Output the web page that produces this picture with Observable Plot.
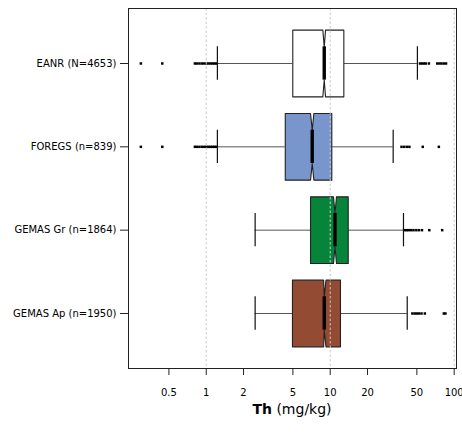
<!DOCTYPE html>
<html>
<head>
<meta charset="utf-8">
<script src="https://cdn.jsdelivr.net/npm/d3@7"></script>
<script src="https://cdn.jsdelivr.net/npm/@observablehq/plot@0.6"></script>
<style>
  html, body { margin: 0; padding: 0; background: #fff; }
  #chart { width: 462px; height: 433px; }
</style>
</head>
<body>
<div id="chart"></div>
<script>
// Thorium (mg/kg) in four European geochemical surveys: notched box plots
const groups = ["EANR (N=4653)", "FOREGS (n=839)", "GEMAS Gr (n=1864)", "GEMAS Ap (n=1950)"];
const fills = ["#ffffff", "#7896cb", "#06853a", "#934c33"];

const whiskerLo = [1.23, 1.23, 2.48, 2.48];
const q1 = [4.99, 4.34, 6.94, 4.96];
const notchLo = [8.72, 6.94, 10.63, 8.85];
const median = [8.95, 7.16, 10.93, 8.95];
const notchHi = [9.17, 7.38, 11.24, 9.25];
const q3 = [12.88, 10.3, 13.97, 12.1];
const whiskerHi = [50.5, 32.2, 39.0, 41.8];

const outliers = [
  [0.297, 0.442, 0.81, 0.84, 0.88, 0.92, 0.96, 1.0, 1.04, 1.08, 1.12, 1.16, 1.2,
   53, 55, 57, 59, 62.5, 73, 76, 79, 82.5, 86],
  [0.297, 0.442, 0.81, 0.84, 0.88, 0.92, 0.96, 1.0, 1.04, 1.08, 1.12, 1.16, 1.2,
   37.6, 39.5, 41.5, 43.5, 55.8, 75.2],
  [40, 41.5, 43, 45, 47, 49.5, 52, 55, 63, 80],
  [46, 48, 50, 52, 54.5, 58, 82.5, 85]
];

const xTicks = [0.5, 1, 2, 5, 10, 20, 50, 100];
const gridValues = [1, 10, 100];

// row index 1..4 from top; box half-height and notch depth in row units
const half = 0.4;
const notchDepth = 0.2;

const rows = groups.map((g, i) => ({
  g, pos: i + 1,
  wlo: whiskerLo[i], q1: q1[i], nlo: notchLo[i], med: median[i],
  nhi: notchHi[i], q3: q3[i], whi: whiskerHi[i]
}));

function boxOutline(r) {
  const c = r.pos;
  return [
    {x: r.q1, y: c - half}, {x: r.nlo, y: c - half}, {x: r.med, y: c - notchDepth},
    {x: r.nhi, y: c - half}, {x: r.q3, y: c - half}, {x: r.q3, y: c + half},
    {x: r.nhi, y: c + half}, {x: r.med, y: c + notchDepth}, {x: r.nlo, y: c + half},
    {x: r.q1, y: c + half}, {x: r.q1, y: c - half}
  ];
}

const outlierPts = outliers.flatMap((vals, i) => vals.map(v => ({x: v, y: i + 1})));

const width = 462, height = 433;
const marginLeft = 128, marginRight = 6, marginTop = 8, marginBottom = 65;

const chart = Plot.plot({
  width, height, marginLeft, marginRight, marginTop, marginBottom,
  style: {fontFamily: "DejaVu Sans", fontSize: "10px", color: "#000", background: "#fff"},
  x: {type: "log", domain: [0.236, 104.4], axis: null},
  y: {type: "linear", domain: [4.66, 0.34], axis: null},
  marks: [
    // whiskers
    Plot.ruleY(rows, {y: "pos", x1: "wlo", x2: "q1", stroke: "#555", strokeWidth: 1}),
    Plot.ruleY(rows, {y: "pos", x1: "q3", x2: "whi", stroke: "#555", strokeWidth: 1}),
    Plot.ruleX(rows, {x: "wlo", y1: d => d.pos - notchDepth, y2: d => d.pos + notchDepth, stroke: "#111", strokeWidth: 1.2}),
    Plot.ruleX(rows, {x: "whi", y1: d => d.pos - notchDepth, y2: d => d.pos + notchDepth, stroke: "#111", strokeWidth: 1.2}),
    // notched boxes
    ...rows.map((r, i) => Plot.line(boxOutline(r), {
      x: "x", y: "y", fill: fills[i], stroke: "#222", strokeWidth: 1.1, curve: "linear"
    })),
    // medians
    Plot.ruleX(rows, {x: "med", y1: d => d.pos - notchDepth, y2: d => d.pos + notchDepth, stroke: "#000", strokeWidth: 3.4}),
    // outliers
    Plot.dot(outlierPts, {x: "x", y: "y", symbol: "square", r: 1.4, fill: "#000", stroke: "none"}),
    // reference grid
    Plot.ruleX(gridValues, {stroke: "#c8c8c8", strokeDasharray: "2.5,2", strokeWidth: 1}),
    Plot.frame({stroke: "#222", strokeWidth: 1}),
    Plot.axisX(xTicks, {text: d => String(d), tickSize: 7, tickPadding: 13, fontSize: 10, label: null, stroke: "#222"}),
    Plot.axisY([1, 2, 3, 4], {tickFormat: i => groups[i - 1], tickSize: 8, tickPadding: 4, fontSize: 10, label: null, stroke: "#222"})
  ]
});

// axis title with the element symbol in bold
const svg = d3.select(chart);
const title = svg.append("text")
  .attr("x", marginLeft + (width - marginLeft - marginRight) / 2)
  .attr("y", 414)
  .attr("text-anchor", "middle")
  .attr("font-family", "DejaVu Sans")
  .attr("font-size", 14)
  .attr("fill", "#000");
title.append("tspan").attr("font-weight", "bold").text("Th");
title.append("tspan").text(" (mg/kg)");

document.getElementById("chart").appendChild(chart);
</script>
</body>
</html>
